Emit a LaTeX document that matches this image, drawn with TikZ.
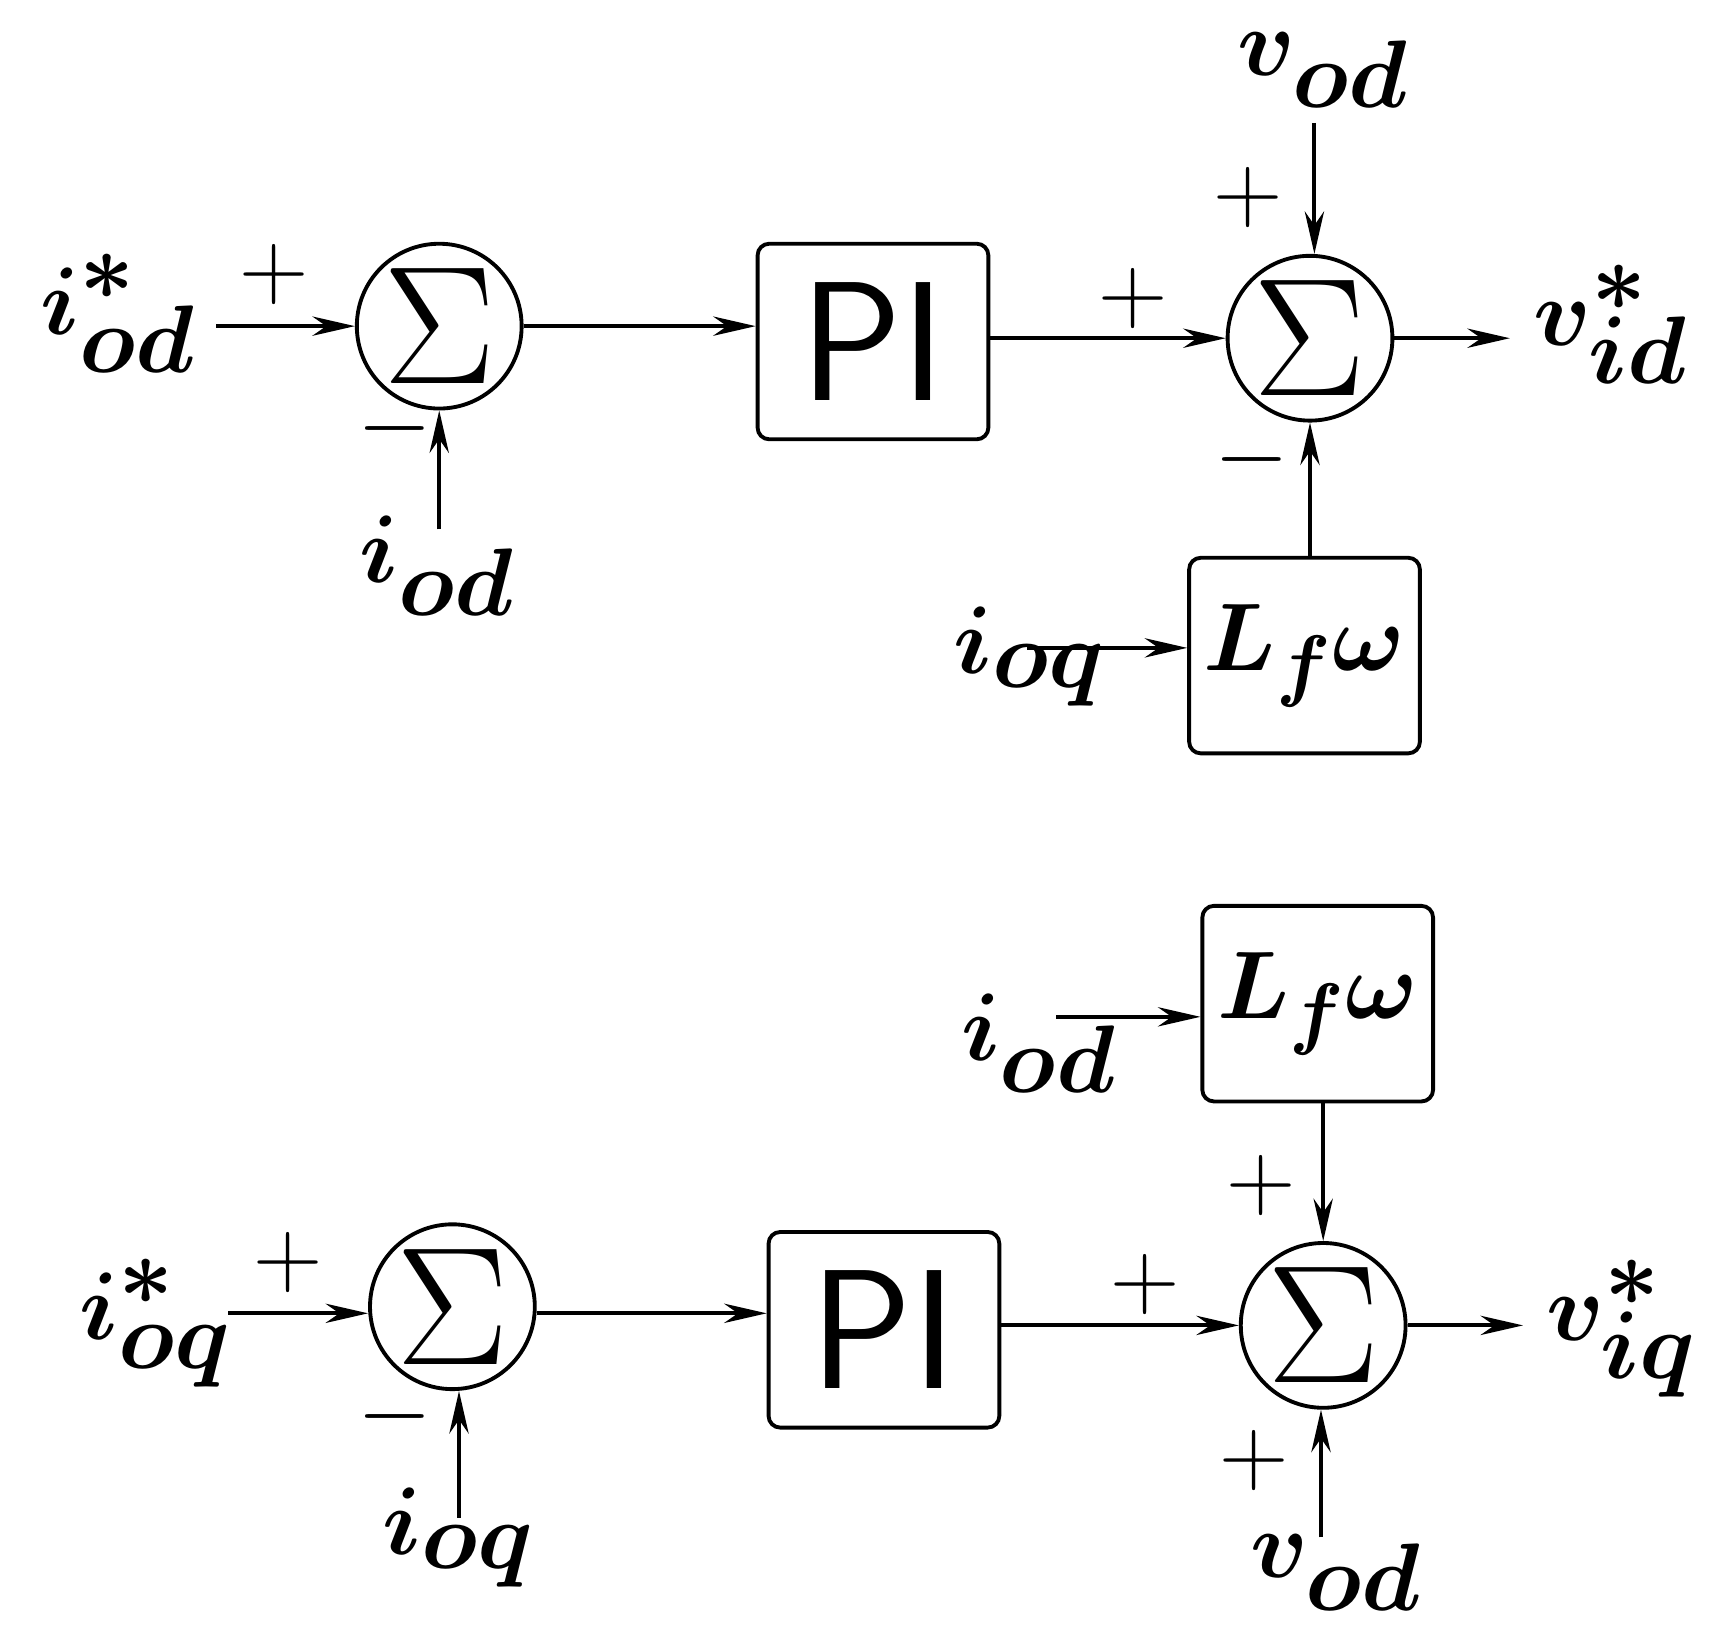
\documentclass[tikz,border=0pt]{standalone}
\usetikzlibrary{arrows.meta}
\newcommand{\bigsig}{\scalebox{1.75}{$\Sigma$}}
\begin{document}
\begin{tikzpicture}[x=0.01cm,y=-0.01cm,line width=1pt,
  sum/.style={circle,draw,minimum size=1.5cm,inner sep=0pt,font=\fontsize{34}{40}\selectfont},
  blk/.style={draw,rounded corners=3pt,minimum width=2.1cm,minimum height=1.78cm,inner sep=0pt},
  lbl/.style={font=\boldmath\fontsize{34}{40}\selectfont,inner sep=0pt},
  sg/.style={font=\fontsize{30}{36}\selectfont,inner sep=0pt},
  ar/.style={-{Stealth[length=11pt,width=5pt]}}]
\useasboundingbox (0,0) rectangle (1560,1487);
% top
\node[sum] (s1) at (400,297) {\bigsig};
\node[blk,font=\sffamily\fontsize{44}{50}\selectfont] (pi1) at (795,311) {PI};
\node[sum] (s2) at (1193,308) {\bigsig};
\node[blk,font=\boldmath\fontsize{30}{36}\selectfont] (lf1) at (1188,597) {$L_f\omega$};
\node[lbl] (a1) at (108,285) {$i^*_{od}$};
\node[lbl] (a2) at (398,515) {$i_{od}$};
\node[lbl] (a3) at (1205,64) {$v_{od}$};
\node[lbl] (a4) at (1467,295) {$v^*_{id}$};
\node[lbl] (a5) at (938,598) {$i_{oq}$};
\coordinate (c1) at (197,297);
\coordinate (c2) at (400,482);
\coordinate (c3) at (1197,112);
\coordinate (c4) at (1375,308);
\coordinate (c5) at (935,590);
\draw[ar] (c1) -- (s1.west);
\draw[ar] (c2) -- (s1.south);
\draw[ar] (s1.east) -- (pi1.west|-s1.east);
\draw[ar] (pi1.east|-s2.west) -- (s2.west);
\draw[ar] (c3) -- (1197,0|-s2.north);
\draw[ar] (s2.east) -- (c4);
\draw[ar] (lf1.north-|s2.south) -- (s2.south);
\draw[ar] (c5) -- (lf1.west|-c5);
\node[sg] (p1) at (250,250) {$+$};
\node[sg] (m1) at (360,390) {$-$};
\node[sg] (p2) at (1032,272) {$+$};
\node[sg] (p3) at (1137,180) {$+$};
\node[sg] (m2) at (1140,418) {$-$};
% bottom
\node[sum] (s3) at (412,1190) {\bigsig};
\node[blk,font=\sffamily\fontsize{44}{50}\selectfont] (pi2) at (805,1211) {PI};
\node[sum] (s4) at (1205,1207) {\bigsig};
\node[blk,font=\boldmath\fontsize{30}{36}\selectfont] (lf2) at (1200,914) {$L_f\omega$};
\node[lbl] (b1) at (142,1205) {$i^*_{oq}$};
\node[lbl] (b2) at (418,1400) {$i_{oq}$};
\node[lbl] (b3) at (946,950) {$i_{od}$};
\node[lbl] (b4) at (1477,1210) {$v^*_{iq}$};
\node[lbl] (b5) at (1217,1432) {$v_{od}$};
\coordinate (d1) at (208,1196);
\coordinate (d2) at (418,1382);
\coordinate (d3) at (962,926);
\coordinate (d4) at (1387,1207);
\coordinate (d5) at (1203,1400);
\draw[ar] (d1) -- (s3.west|-d1);
\draw[ar] (d2) -- (418,0|-s3.south);
\draw[ar] (s3.east|-d1) -- (pi2.west|-d1);
\draw[ar] (pi2.east|-s4.west) -- (s4.west);
\draw[ar] (lf2.south-|s4.north) -- (s4.north);
\draw[ar] (s4.east) -- (d4);
\draw[ar] (d5) -- (1203,0|-s4.south);
\draw[ar] (d3) -- (lf2.west|-d3);
\node[sg] (p4) at (262,1150) {$+$};
\node[sg] (m3) at (360,1290) {$-$};
\node[sg] (p5) at (1043,1170) {$+$};
\node[sg] (p6) at (1148,1080) {$+$};
\node[sg] (p7) at (1142,1330) {$+$};
\end{tikzpicture}
\end{document}
